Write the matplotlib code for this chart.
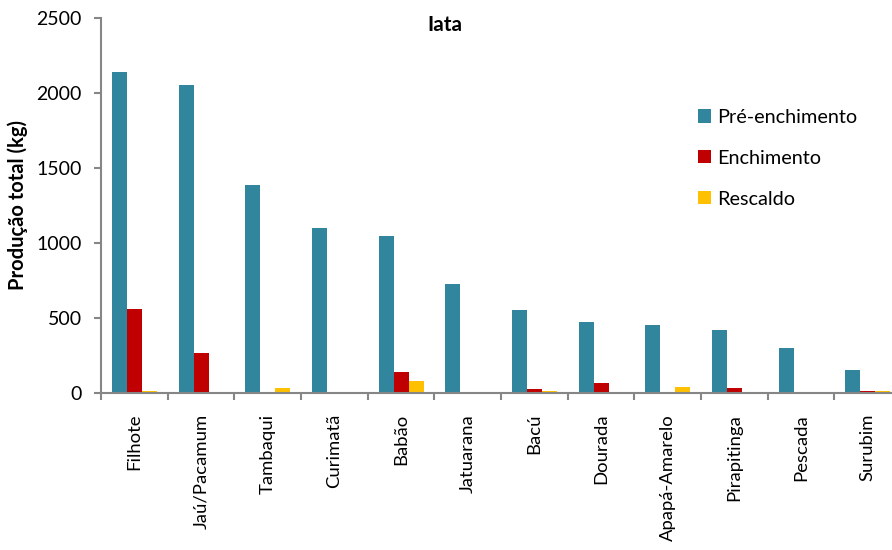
import matplotlib
matplotlib.use("Agg")
import matplotlib.pyplot as plt
import numpy as np

categories = ["Filhote", "Jaú/Pacamum", "Tambaqui", "Curimatã", "Babão", "Jatuarana",
              "Bacú", "Dourada", "Apapá-Amarelo", "Pirapitinga", "Pescada", "Surubim"]
pre_enchimento = [2140, 2053, 1387, 1100, 1047, 727, 553, 471, 453, 418, 298, 151]
enchimento = [560, 267, 0, 8, 138, 0, 25, 64, 2, 33, 0, 15]
rescaldo = [13, 0, 33, 8, 80, 5, 15, 3, 40, 0, 5, 12]
series_names = ["Pré-enchimento", "Enchimento", "Rescaldo"]
yticks = [0, 500, 1000, 1500, 2000, 2500]

plt.rcParams["font.family"] = ["Lato", "DejaVu Sans"]

colors = ["#31859C", "#C00000", "#FFC000"]
axis_grey = "#868686"

fig = plt.figure(figsize=(8.92, 5.5), dpi=100)
ax = fig.add_axes([101 / 892, 157 / 550, 800 / 892, 375 / 550])

x = np.arange(len(categories))
w = 0.225
for i, (vals, name) in enumerate(zip([pre_enchimento, enchimento, rescaldo], series_names)):
    ax.bar(x + (i - 1) * w, vals, width=w, color=colors[i], label=name,
           linewidth=0, zorder=2)

ax.set_xlim(-0.5, len(categories) - 0.5)
ax.set_ylim(0, 2500)
ax.set_yticks(yticks)
ax.set_yticklabels([str(t) for t in yticks], fontsize=14)

# category labels centred, tick marks on the boundaries
ax.set_xticks(x)
ax.set_xticklabels(categories, rotation=90, fontsize=13.3, va="top", ha="center")
ax.tick_params(axis="x", which="major", length=0, pad=15)
ax.set_xticks(np.arange(-0.5, len(categories) + 0.5, 1), minor=True)
ax.tick_params(axis="x", which="minor", length=5, width=1.5, color=axis_grey, direction="out")
ax.tick_params(axis="y", length=5, width=1.5, color=axis_grey, direction="out", pad=9)

for s in ["top", "right"]:
    ax.spines[s].set_visible(False)
for s in ["left", "bottom"]:
    ax.spines[s].set_color(axis_grey)
    ax.spines[s].set_linewidth(1.5)

ax.set_ylabel("Produção total (kg)", fontsize=14.5, fontweight="bold", labelpad=6)

fig.text(445 / 892, 1 - 25 / 550, "Iata", fontsize=15, fontweight="bold",
         ha="center", va="center")

fig.legend(loc="upper left", bbox_to_anchor=(680 / 892, 1 - 91 / 550), frameon=False,
           fontsize=14.3, handlelength=0.65, handleheight=0.65, handletextpad=0.3,
           labelspacing=1.2)

fig.savefig("out.png", dpi=100)
